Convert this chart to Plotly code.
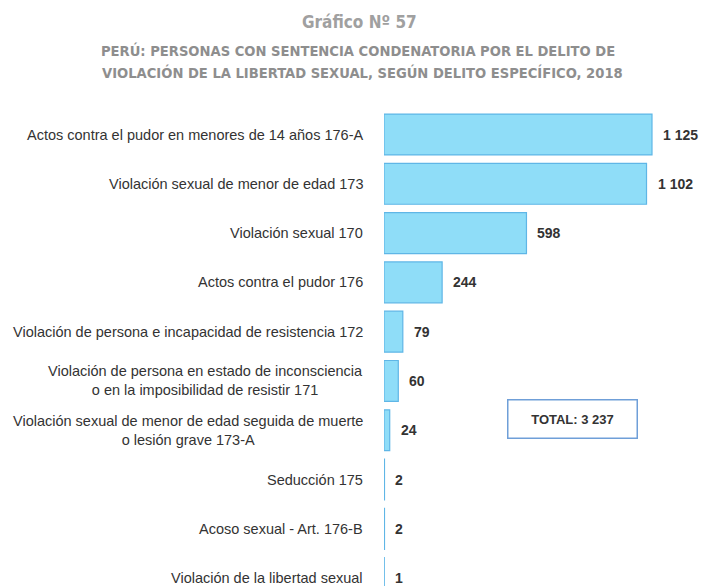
import plotly.graph_objects as go

categories = [
    "Actos contra el pudor en menores de 14 años 176-A",
    "Violación sexual de menor de edad 173",
    "Violación sexual 170",
    "Actos contra el pudor 176",
    "Violación de persona e incapacidad de resistencia 172",
    "Violación de persona en estado de inconsciencia<br>o en la imposibilidad de resistir 171",
    "Violación sexual de menor de edad seguida de muerte<br>o lesión grave 173-A",
    "Seducción 175",
    "Acoso sexual - Art. 176-B",
    "Violación de la libertad sexual",
]
values = [1125, 1102, 598, 244, 79, 60, 24, 2, 2, 1]

title_lines = [
    "Gráfico Nº 57",
    "PERÚ: PERSONAS CON SENTENCIA CONDENATORIA POR EL DELITO DE",
    "VIOLACIÓN DE LA LIBERTAD SEXUAL, SEGÚN DELITO ESPECÍFICO, 2018",
]

W, H = 702, 586
FONT = "Liberation Sans, Arial, sans-serif"
TITLE_FONT = "DejaVu Sans Condensed, Liberation Sans, Arial, sans-serif"


def fmt(v):
    return f"{v:,}".replace(",", " ")


def px(x):
    return x / W


def py(y):
    return 1 - y / H


x_left = 384
plot_w = W - x_left
x_max = plot_w * 1125 / 268

fig = go.Figure()
fig.add_trace(go.Bar(
    x=values, y=categories, orientation="h",
    width=0.83,
    marker=dict(color="#8FDDF8", line=dict(color="#5FB6E6", width=1.2)),
    hoverinfo="skip",
))

annotations = []
for c in categories:
    annotations.append(dict(
        x=0, y=c, xref="x", yref="y", text=c, showarrow=False,
        xanchor="right", yanchor="middle", align="center", xshift=-19,
        font=dict(family=FONT, size=14.5, color="#333333"),
    ))
for c, v in zip(categories, values):
    annotations.append(dict(
        x=v, y=c, xref="x", yref="y", text=f"<b>{fmt(v)}</b>", showarrow=False,
        xanchor="left", yanchor="middle", xshift=9,
        font=dict(family=FONT, size=14, color="#333333"),
    ))
annotations.append(dict(
    x=px(360), y=py(22), xref="paper", yref="paper", text=f"<b>{title_lines[0]}</b>",
    showarrow=False, xanchor="center", yanchor="middle",
    font=dict(family=TITLE_FONT, size=17, color="#A0A0A0"),
))
annotations.append(dict(
    x=px(358), y=py(50), xref="paper", yref="paper", text=f"<b>{title_lines[1]}</b>",
    showarrow=False, xanchor="center", yanchor="middle",
    font=dict(family=TITLE_FONT, size=14.6, color="#8E8E8E"),
))
annotations.append(dict(
    x=px(362), y=py(72), xref="paper", yref="paper", text=f"<b>{title_lines[2]}</b>",
    showarrow=False, xanchor="center", yanchor="middle",
    font=dict(family=TITLE_FONT, size=14.6, color="#8E8E8E"),
))
annotations.append(dict(
    x=px(572), y=py(418.5), xref="paper", yref="paper",
    text=f"<b>TOTAL: {fmt(sum(values))}</b>", showarrow=False,
    xanchor="center", yanchor="middle", width=124, height=33,
    bordercolor="#6F9FD8", borderwidth=1.5, borderpad=2,
    font=dict(family=FONT, size=13, color="#333333"),
))

fig.update_layout(
    width=W, height=H,
    margin=dict(l=0, r=0, t=0, b=0),
    paper_bgcolor="white", plot_bgcolor="white",
    showlegend=False,
    xaxis=dict(domain=[px(x_left), 1], range=[0, x_max], visible=False, fixedrange=True),
    yaxis=dict(domain=[0, py(110)], range=[9.16, -0.497], visible=False, fixedrange=True,
               type="category", categoryorder="array", categoryarray=categories),
    annotations=annotations,
)

fig.write_html(
    "out.html",
    config={"displayModeBar": False},
    post_script="document.body.style.margin='0';document.body.style.overflow='hidden';",
)
